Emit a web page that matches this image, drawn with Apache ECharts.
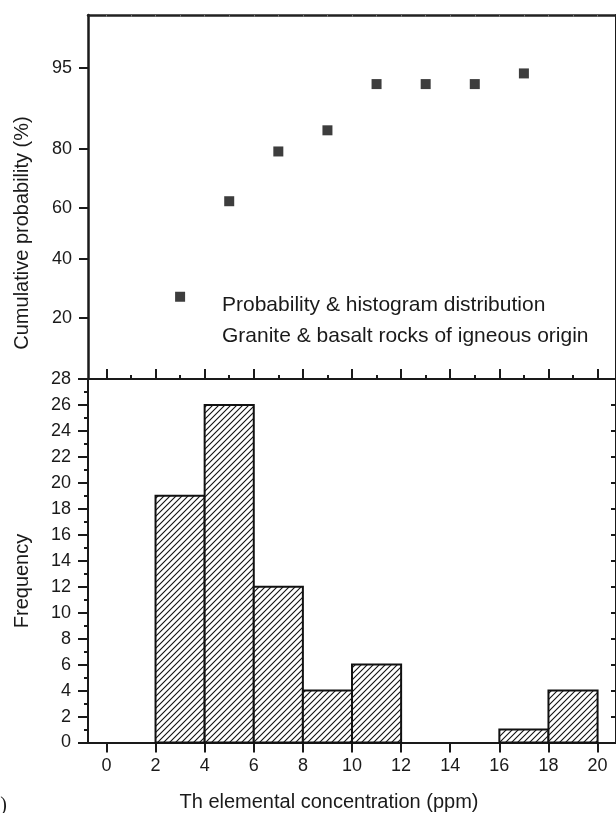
<!DOCTYPE html>
<html>
<head>
<meta charset="utf-8">
<script src="https://cdn.jsdelivr.net/npm/echarts@6/dist/echarts.min.js"></script>
<style>
  html, body { margin: 0; padding: 0; background: #fff; }
  #main { width: 616px; height: 813px; }
</style>
</head>
<body>
<div id="main"></div>
<script>
// histogram bins (Th, ppm)
var binStart = [2, 4, 6, 8, 10, 12, 14, 16, 18];
var binWidth = 2;
var counts = [19, 26, 12, 4, 6, 0, 0, 1, 4];

// cumulative probability points (%)
var probX = [3, 5, 7, 9, 11, 13, 15, 17];
var cumProb = [26.4, 62.5, 79.2, 84.7, 93.1, 93.1, 93.1, 94.4];

// tick labels
var probTicks = [20, 40, 60, 80, 95];
var probRange = [7.37, 98.5];
var xTicks = [0, 2, 4, 6, 8, 10, 12, 14, 16, 18, 20];
var xMinor = [1, 3, 5, 7, 9, 11, 13, 15, 17, 19];
var freqTicks = [0, 2, 4, 6, 8, 10, 12, 14, 16, 18, 20, 22, 24, 26, 28];
var freqMinor = [1, 3, 5, 7, 9, 11, 13, 15, 17, 19, 21, 23, 25, 27];
var freqRight = [2, 4, 6, 8, 10, 12, 14, 16, 18, 20, 22, 24, 26];

var FONT = "'Liberation Sans', Arial, sans-serif";
var INK = '#1a1a1a';

// normal quantile (Acklam)
function normInv(p) {
  var a = [-3.969683028665376e+01, 2.209460984245205e+02, -2.759285104469687e+02, 1.383577518672690e+02, -3.066479806614716e+01, 2.506628277459239e+00];
  var b = [-5.447609879822406e+01, 1.615858368580409e+02, -1.556989798598866e+02, 6.680131188771720e+01, -1.328068155288572e+01];
  var c = [-7.784894002430293e-03, -3.223964580411365e-01, -2.400758277161838e+00, -2.549732539343734e+00, 4.374664141464968e+00, 2.938163982698783e+00];
  var d = [7.784695709041462e-03, 3.224671290700398e-01, 2.445134137142996e+00, 3.754408661907416e+00];
  var plow = 0.02425, q, r;
  if (p < plow) {
    q = Math.sqrt(-2 * Math.log(p));
    return (((((c[0]*q+c[1])*q+c[2])*q+c[3])*q+c[4])*q+c[5]) / ((((d[0]*q+d[1])*q+d[2])*q+d[3])*q+1);
  }
  if (p > 1 - plow) {
    q = Math.sqrt(-2 * Math.log(1 - p));
    return -(((((c[0]*q+c[1])*q+c[2])*q+c[3])*q+c[4])*q+c[5]) / ((((d[0]*q+d[1])*q+d[2])*q+d[3])*q+1);
  }
  q = p - 0.5; r = q * q;
  return (((((a[0]*r+a[1])*r+a[2])*r+a[3])*r+a[4])*r+a[5])*q / (((((b[0]*r+b[1])*r+b[2])*r+b[3])*r+b[4])*r+1);
}
function normCdf(z) {
  var t = 1 / (1 + 0.3275911 * Math.abs(z) / Math.SQRT2);
  var y = 1 - (((((1.061405429*t - 1.453152027)*t) + 1.421413741)*t - 0.284496736)*t + 0.254829592)*t * Math.exp(-z*z/2);
  return z >= 0 ? 0.5 * (1 + y) : 0.5 * (1 - y);
}
function z(pct) { return normInv(pct / 100); }

// hatch pattern "/"
var hatch = document.createElement('canvas');
hatch.width = 6; hatch.height = 6;
(function () {
  var ctx = hatch.getContext('2d');
  ctx.fillStyle = '#fff';
  ctx.fillRect(0, 0, 6, 6);
  ctx.strokeStyle = '#111';
  ctx.lineWidth = 1.1;
  ctx.beginPath();
  ctx.moveTo(-1, 7); ctx.lineTo(7, -1);
  ctx.moveTo(-1, 1); ctx.lineTo(1, -1);
  ctx.moveTo(5, 7); ctx.lineTo(7, 5);
  ctx.stroke();
})();

var histData = [];
for (var i = 0; i < binStart.length; i++) {
  if (counts[i] > 0) histData.push([binStart[i], binStart[i] + binWidth, counts[i]]);
}
var probData = probX.map(function (x, i) { return [x, z(cumProb[i])]; });

var chart = echarts.init(document.getElementById('main'), null, { renderer: 'canvas' });

var labelStyle = { color: INK, fontFamily: FONT, fontSize: 18 };
function axisLine(w, color) {
  return { onZero: false, lineStyle: { color: color || INK, width: w || 2 } };
}
var noLine = { show: false, onZero: false };

var option = {
  animation: false,
  backgroundColor: '#fff',
  grid: [
    { left: 88, right: -1, top: 15, height: 364 },
    { left: 88, right: -1, top: 379, height: 363.5 }
  ],
  xAxis: [
    { // upper panel bottom, major inward ticks
      gridIndex: 0, type: 'value', position: 'bottom', min: -0.75, max: 20.75,
      axisLine: axisLine(2),
      axisTick: { inside: true, length: 10, customValues: xTicks, lineStyle: { color: INK, width: 2 } },
      axisLabel: { show: false }, splitLine: { show: false }
    },
    { // upper panel bottom, minor
      gridIndex: 0, type: 'value', position: 'bottom', min: -0.75, max: 20.75,
      axisLine: noLine,
      axisTick: { inside: true, length: 4, customValues: xMinor, lineStyle: { color: INK, width: 2 } },
      axisLabel: { show: false }, splitLine: { show: false }
    },
    { // upper panel top border
      gridIndex: 0, type: 'value', position: 'top', min: -0.75, max: 20.75,
      axisLine: axisLine(2.5, '#222'),
      axisTick: { inside: true, length: 2, customValues: xTicks.concat(xMinor), lineStyle: { color: '#777', width: 1 } },
      axisLabel: { show: false }, splitLine: { show: false }
    },
    { // lower panel bottom
      gridIndex: 1, type: 'value', position: 'bottom', min: -0.75, max: 20.75,
      axisLine: axisLine(2),
      axisTick: { length: 10, customValues: xTicks, lineStyle: { color: INK, width: 2 } },
      axisLabel: Object.assign({ margin: 15, customValues: xTicks }, labelStyle),
      splitLine: { show: false }
    }
  ],
  yAxis: [
    { // cumulative probability (normal probability scale)
      gridIndex: 0, type: 'value', position: 'left', min: z(probRange[0]), max: z(probRange[1]),
      axisLine: axisLine(2.5),
      axisTick: { length: 9, customValues: probTicks.map(z), lineStyle: { color: INK, width: 2 } },
      axisLabel: Object.assign({
        margin: 16, customValues: probTicks.map(z),
        formatter: function (v) { return String(Math.round(normCdf(v) * 100)); }
      }, labelStyle),
      splitLine: { show: false }
    },
    {
      gridIndex: 0, type: 'value', position: 'right', min: z(probRange[0]), max: z(probRange[1]),
      axisLine: axisLine(2), axisTick: { show: false }, axisLabel: { show: false }, splitLine: { show: false }
    },
    { // frequency
      gridIndex: 1, type: 'value', position: 'left', min: 0, max: 28,
      axisLine: axisLine(2),
      axisTick: { length: 10, customValues: freqTicks, lineStyle: { color: INK, width: 2 } },
      axisLabel: Object.assign({ margin: 17, customValues: freqTicks }, labelStyle),
      splitLine: { show: false }
    },
    {
      gridIndex: 1, type: 'value', position: 'left', min: 0, max: 28,
      axisLine: noLine,
      axisTick: { length: 4, customValues: freqMinor, lineStyle: { color: INK, width: 2 } },
      axisLabel: { show: false }, splitLine: { show: false }
    },
    {
      gridIndex: 1, type: 'value', position: 'right', min: 0, max: 28,
      axisLine: axisLine(2),
      axisTick: { inside: true, length: 5, customValues: freqRight, lineStyle: { color: INK, width: 2 } },
      axisLabel: { show: false }, splitLine: { show: false }
    }
  ],
  series: [
    {
      type: 'scatter', xAxisIndex: 0, yAxisIndex: 0,
      symbol: 'rect', symbolSize: 10,
      itemStyle: { color: '#0d0d0d' },
      data: probData
    },
    {
      type: 'custom', xAxisIndex: 3, yAxisIndex: 2,
      encode: { x: [0, 1], y: 2 },
      data: histData,
      renderItem: function (params, api) {
        var p0 = api.coord([api.value(0), 0]);
        var p1 = api.coord([api.value(1), api.value(2)]);
        return {
          type: 'rect',
          shape: { x: p0[0], y: p1[1], width: p1[0] - p0[0], height: p0[1] - p1[1] },
          style: { fill: { image: hatch, repeat: 'repeat' }, stroke: '#111', lineWidth: 2 }
        };
      }
    }
  ],
  graphic: [
    {
      type: 'text', x: 22, y: 233, rotation: Math.PI / 2,
      style: { text: 'Cumulative probability (%)', font: '20px ' + FONT, fill: INK, textAlign: 'center', textVerticalAlign: 'middle' }
    },
    {
      type: 'text', x: 22, y: 581, rotation: Math.PI / 2,
      style: { text: 'Frequency', font: '20px ' + FONT, fill: INK, textAlign: 'center', textVerticalAlign: 'middle' }
    },
    {
      type: 'text', x: 329, y: 802,
      style: { text: 'Th elemental concentration (ppm)', font: '20px ' + FONT, fill: INK, textAlign: 'center', textVerticalAlign: 'middle' }
    },
    {
      type: 'text', x: 222, y: 305,
      style: { text: 'Probability & histogram distribution', font: '21px ' + FONT, fill: INK, textAlign: 'left', textVerticalAlign: 'middle' }
    },
    {
      type: 'text', x: 222, y: 336,
      style: { text: 'Granite & basalt rocks of igneous origin', font: '21px ' + FONT, fill: INK, textAlign: 'left', textVerticalAlign: 'middle' }
    },
    {
      type: 'text', x: 7, y: 806,
      style: { text: '(c)', font: '20px "Liberation Serif", serif', fill: INK, textAlign: 'right', textVerticalAlign: 'middle' }
    }
  ]
};

chart.setOption(option);
</script>
</body>
</html>
